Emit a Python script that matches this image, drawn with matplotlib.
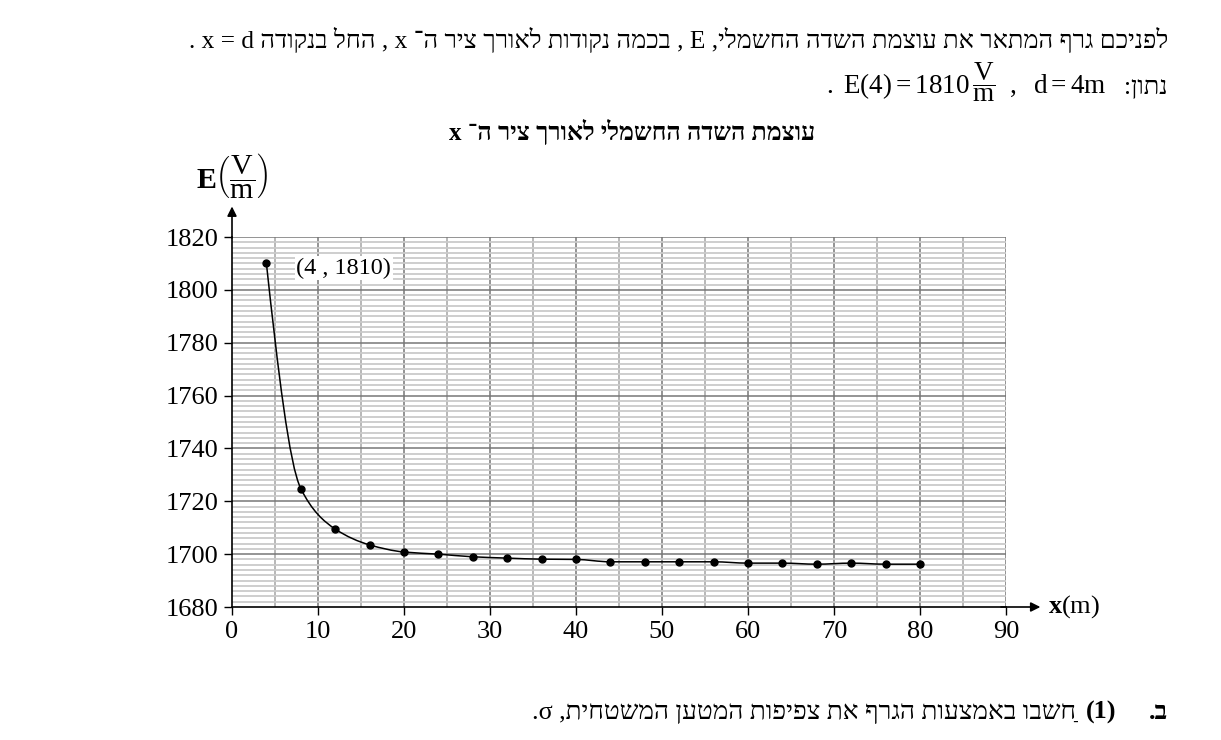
import re
import numpy as np
import matplotlib
matplotlib.use('Agg')
import matplotlib.pyplot as plt
from matplotlib.path import Path
from matplotlib.patches import PathPatch

plt.rcParams['font.family'] = ['Liberation Serif', 'DejaVu Sans']
plt.rcParams['mathtext.fontset'] = 'custom'
plt.rcParams['mathtext.rm'] = 'Liberation Serif'
plt.rcParams['mathtext.it'] = 'Liberation Serif:italic'
plt.rcParams['mathtext.bf'] = 'Liberation Serif:bold'

# data
x_m = [4, 8, 12, 16, 20, 24, 28, 32, 36, 40, 44, 48, 52, 56, 60, 64, 68, 72, 76, 80]
e_vm = [1810, 1724.8, 1709.5, 1703.5, 1700.8, 1700.0, 1699.0, 1698.5, 1698.1, 1698.0,
        1697.1, 1697.1, 1697.1, 1697.1, 1696.6, 1696.6, 1696.2, 1696.6, 1696.2, 1696.2]
y_ticks = [1680, 1700, 1720, 1740, 1760, 1780, 1800, 1820]
x_ticks = [0, 10, 20, 30, 40, 50, 60, 70, 80, 90]

line1 = "לפניכם גרף המתאר את עוצמת השדה החשמלי, E , בכמה נקודות לאורך ציר ה־ x , החל בנקודה x = d ."
given = "נתון:"
title = "עוצמת השדה החשמלי לאורך ציר ה־ x"
q_letter = "ב."
q_text = "חַשבו באמצעות הגרף את צפיפות המטען המשטחית, σ."

W, H = 1221, 740
MARKS = '\u0591-\u05BD\u05BF\u05C1\u05C2\u05C4\u05C5\u05C7'
MIRROR = {'(': ')', ')': '('}


def visual(s):
    # crude bidi: RTL paragraph with embedded latin runs
    runs = re.findall(r'[A-Za-z0-9σ](?:[A-Za-z0-9σ =]*[A-Za-z0-9σ])?|[^A-Za-z0-9σ]+', s)
    out = []
    for r in runs:
        if re.match(r'[A-Za-z0-9σ]', r):
            out.append(r)
        else:
            cl = re.findall('.[' + MARKS + ']*', r)
            out.append(''.join(MIRROR.get(c, c) for c in reversed(cl)))
    return ''.join(reversed(out))


def fx(x):
    return x / W


def fy(y):
    return 1 - y / H


def smooth(xs, ys):
    # monotone cubic through the points, drawn as bezier segments
    p = np.column_stack([xs, ys]).astype(float)
    h = np.diff(p[:, 0])
    d = np.diff(p[:, 1]) / h
    n = len(p)
    m = np.zeros(n)
    for i in range(1, n - 1):
        if d[i - 1] * d[i] > 0:
            m[i] = 2 / (1 / d[i - 1] + 1 / d[i])
    m[0] = (3 * d[0] - d[1]) / 2
    m[-1] = (3 * d[-1] - d[-2]) / 2
    if m[-1] * d[-1] <= 0:
        m[-1] = 0
    verts = [tuple(p[0])]
    codes = [Path.MOVETO]
    for i in range(n - 1):
        verts += [(p[i, 0] + h[i] / 3, p[i, 1] + m[i] * h[i] / 3),
                  (p[i + 1, 0] - h[i] / 3, p[i + 1, 1] - m[i + 1] * h[i] / 3),
                  tuple(p[i + 1])]
        codes += [Path.CURVE4] * 3
    return Path(verts, codes)


fig = plt.figure(figsize=(W / 100, H / 100), dpi=100)
ax = fig.add_axes([fx(232), fy(607), (1006 - 232) / W, (607 - 237) / H])

# grid
for xv in range(5, 91, 5):
    ax.axvline(xv, color='#808080' if xv % 10 == 0 else '#ababab', lw=1.2, zorder=0)
for yv in range(1682, 1821, 2):
    if yv % 20 == 0:
        ax.axhline(yv, color='#777777', lw=1.1, zorder=0)
    else:
        ax.axhline(yv, color='#cacaca', lw=1.3, zorder=0)

ax.add_patch(PathPatch(smooth(x_m, e_vm), fill=False, color='black', lw=1.1, zorder=3))
ax.plot(x_m, e_vm, 'o', color='black', ms=5, zorder=4)

ax.set_xlim(0, 90)
ax.set_ylim(1680, 1820)
ax.set_xticks(x_ticks)
ax.set_yticks(y_ticks)
ax.tick_params(axis='both', direction='out', length=6, width=1.0, labelsize=19, pad=4)
for s in ['top', 'right']:
    ax.spines[s].set_visible(False)
for s in ['left', 'bottom']:
    ax.spines[s].set_linewidth(1.2)

ax.annotate('', xy=(0, 1.09), xytext=(0, 0.99), xycoords='axes fraction',
            arrowprops=dict(arrowstyle='-|>', color='black', lw=1.2, mutation_scale=14),
            annotation_clip=False)
ax.annotate('', xy=(1.048, 0), xytext=(0.99, 0), xycoords='axes fraction',
            arrowprops=dict(arrowstyle='-|>', color='black', lw=1.2, mutation_scale=14),
            annotation_clip=False)

ax.text(7.5, 1808.2, '(4 , 1810)', fontsize=17.5, va='center', ha='left',
        bbox=dict(facecolor='white', edgecolor='none', pad=1), zorder=5)

fig.text(fx(1048), fy(607), r'$\mathbf{x}\mathrm{(m)}$', fontsize=19, va='center', ha='left')
fig.text(fx(232), fy(177), r'$\mathbf{E}\left(\dfrac{\mathrm{V}}{\mathrm{m}}\right)$',
         fontsize=21.5, va='center', ha='center')

# header and footer text
fig.text(fx(1168), fy(48), visual(line1), fontsize=18.3, ha='right', va='baseline')
fig.text(fx(1168), fy(94), visual(given), fontsize=18.3, ha='right', va='baseline')
fig.text(fx(1106), fy(94),
         r'$.\ \mathrm{E(4)=1810}\,\dfrac{\mathrm{V}}{\mathrm{m}}\ \ ,\ \ \mathrm{d=4m}$',
         fontsize=19.5, ha='right', va='baseline')
fig.text(fx(632), fy(140), visual(title), fontsize=18, fontweight='bold', ha='center', va='baseline')
fig.text(fx(1168), fy(719), visual(q_letter), fontsize=18.8, fontweight='bold', ha='right', va='baseline')
fig.text(fx(1116), fy(719), '(1)', fontsize=18.8, fontweight='bold', ha='right', va='baseline')
fig.text(fx(1076), fy(719), visual(q_text), fontsize=18.8, ha='right', va='baseline')

fig.savefig('out.png', dpi=100)
